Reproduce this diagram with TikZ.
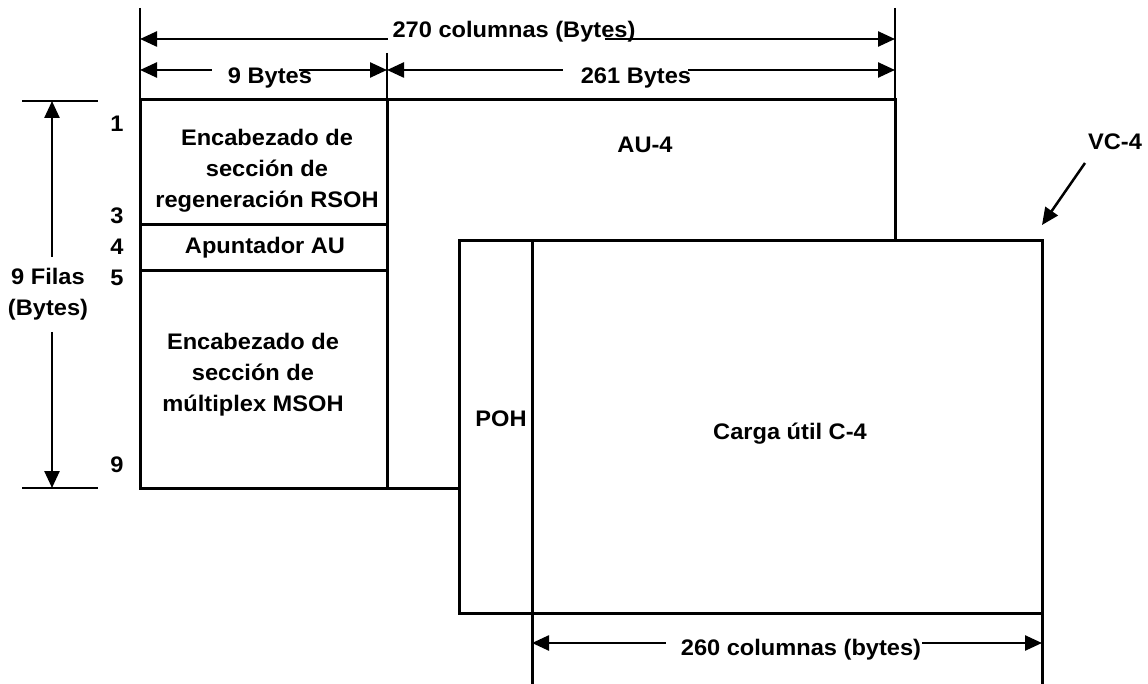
\documentclass[tikz,border=0pt]{standalone}
\usepackage{fontspec}
\setmainfont{Liberation Sans}[FakeStretch=1.05]
\usetikzlibrary{arrows.meta}
\begin{document}
\begin{tikzpicture}[x=1pt,y=-1pt,
  lbl/.style={font=\bfseries\fontsize{22.5}{31}\selectfont, align=center, inner sep=0pt},
  frame/.style={line width=3pt},
  thin/.style={line width=2.5pt},
  dimln/.style={line width=2.5pt},
  tipR/.style={-{Triangle[length=17pt,width=15pt]}},
  tipL/.style={{Triangle[length=17pt,width=15pt]}-}]
\useasboundingbox (0,0) rectangle (1148,684);

% extension lines
\draw[thin] (140,8) -- (140,100);
\draw[thin] (895,8) -- (895,100);
\draw[thin] (387,53) -- (387,100);
\draw[thin] (22,101) -- (98,101);
\draw[thin] (22,488) -- (98,488);

% AU-4 frame
\draw[frame] (140,100) rectangle (895,488);
\draw[frame] (387,100) -- (387,488);
\draw[frame] (140,225) -- (387,225);
\draw[frame] (140,271) -- (387,271);

% VC-4 box
\draw[frame, fill=white] (459,241) rectangle (1042,613);
\draw[frame] (532,241) -- (532,684);
\draw[frame] (1042,613) -- (1042,684);

% labels
\node[lbl] (t270) at (514,32) {270 columnas (Bytes)};
\node[lbl] (t9b) at (270,78) {9 Bytes};
\node[lbl] (t261) at (636,78) {261 Bytes};
\node[lbl] (t260) at (801,650) {260 columnas (bytes)};
\node[lbl] (filas) at (48,294) {9 Filas\\(Bytes)};
\node[lbl] (n1) at (117,124) {1};
\node[lbl] (n3) at (117,216) {3};
\node[lbl] (n4) at (117,247) {4};
\node[lbl] (n5) at (117,278) {5};
\node[lbl] (n9) at (117,465) {9};
\node[lbl] (rsoh) at (267,171) {Encabezado de\\sección de\\regeneración RSOH};
\node[lbl] (au) at (265,248) {Apuntador AU};
\node[lbl] (msoh) at (253,375) {Encabezado de\\sección de\\múltiplex MSOH};
\node[lbl] (au4) at (645,145) {AU-4};
\node[lbl] (poh) at (501,419) {POH};
\node[lbl] (carga) at (790,434) {Carga útil C-4};
\node[lbl] (vc4) at (1115,142) {VC-4};

% dimension lines
\coordinate (a1) at (140,39); \coordinate (a2) at (388,39);
\coordinate (a3) at (605,39); \coordinate (a4) at (895,39);
\draw[dimln,tipL] (a1) -- (a2);
\draw[dimln,tipR] (a3) -- (a4);

\coordinate (b1) at (140,70); \coordinate (b2) at (212,70);
\coordinate (b3) at (299,70); \coordinate (b4) at (387,70);
\draw[dimln,tipL] (b1) -- (b2);
\draw[dimln,tipR] (b3) -- (b4);

\coordinate (c1) at (387,70); \coordinate (c2) at (563,70);
\coordinate (c3) at (688,70); \coordinate (c4) at (895,70);
\draw[dimln,tipL] (c1) -- (c2);
\draw[dimln,tipR] (c3) -- (c4);

\coordinate (d1) at (532,643); \coordinate (d2) at (666,643);
\coordinate (d3) at (922,643); \coordinate (d4) at (1042,643);
\draw[dimln,tipL] (d1) -- (d2);
\draw[dimln,tipR] (d3) -- (d4);

\coordinate (e1) at (52,101); \coordinate (e2) at (52,257);
\coordinate (e3) at (52,332); \coordinate (e4) at (52,488);
\draw[dimln,tipL] (e1) -- (e2);
\draw[dimln,tipR] (e3) -- (e4);

% VC-4 pointer
\coordinate (vcs) at (1085,163); \coordinate (vce) at (1042,225);
\draw[dimln,tipR] (vcs) -- (vce);
\end{tikzpicture}
\end{document}
